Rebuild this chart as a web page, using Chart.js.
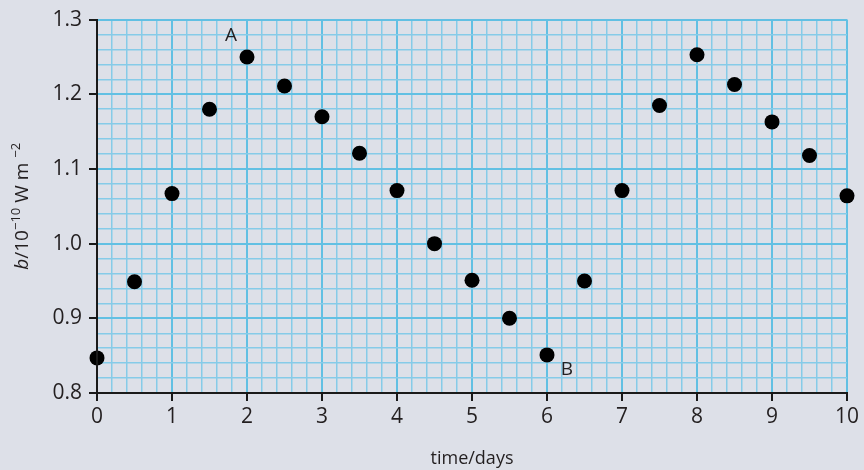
<!DOCTYPE html>
<html>
<head>
<meta charset="utf-8">
<script src="https://cdn.jsdelivr.net/npm/chart.js@4"></script>
<style>
  html, body { margin: 0; padding: 0; background: #dde0e8; }
  #wrap { width: 864px; height: 470px; }
</style>
</head>
<body>
<div id="wrap"><canvas id="chart" width="864" height="470"></canvas></div>
<script>
// dados
const timeDays = [0, 0.5, 1, 1.5, 2, 2.5, 3, 3.5, 4, 4.5, 5, 5.5, 6, 6.5, 7, 7.5, 8, 8.5, 9, 9.5, 10];
const brightness = [0.847, 0.949, 1.067, 1.18, 1.25, 1.211, 1.17, 1.121, 1.071, 1.0, 0.951, 0.9,
                    0.851, 0.95, 1.071, 1.185, 1.253, 1.213, 1.163, 1.118, 1.064];
const xRange = [0, 10];
const yRange = [0.8, 1.3];
const xStep = 0.2;   // linhas finas da grade
const yStep = 0.02;
const pointMarks = [{ text: "A", index: 4 }, { text: "B", index: 12 }];

const BG = "#dde0e8";
const MAJOR = "#62c0e3";
const MINOR = "#86cbe8";
const INK = "#231f20";
const FONT = "'Open Sans', 'Noto Sans', sans-serif";

const isMajorX = v => Math.abs(v - Math.round(v)) < 1e-6;
const isMajorY = v => Math.abs(v * 10 - Math.round(v * 10)) < 1e-6;

// fundo cinza
const bgPlugin = {
  id: "bg",
  beforeDraw(chart) {
    const c = chart.ctx;
    c.save();
    c.fillStyle = BG;
    c.fillRect(0, 0, chart.width, chart.height);
    c.restore();
  }
};

// rótulos A / B e título do eixo y
const extrasPlugin = {
  id: "extras",
  afterDraw(chart) {
    const c = chart.ctx;
    const meta = chart.getDatasetMeta(0);
    c.save();
    c.fillStyle = INK;
    c.font = "19px " + FONT;
    c.textAlign = "center";
    c.textBaseline = "middle";
    const a = meta.data[pointMarks[0].index];
    c.fillText(pointMarks[0].text, a.x - 16, a.y - 21);
    const b = meta.data[pointMarks[1].index];
    c.fillText(pointMarks[1].text, b.x + 20, b.y + 15);
    c.restore();

    // b/10^-10 W m^-2
    const area = chart.chartArea;
    const parts = [
      { t: "b", f: "italic 19px " + FONT, dy: 0 },
      { t: "/10", f: "19px " + FONT, dy: 0 },
      { t: "\u221210", f: "13px " + FONT, dy: -7 },
      { t: " W m ", f: "19px " + FONT, dy: 0 },
      { t: "\u22122", f: "13px " + FONT, dy: -7 }
    ];
    c.save();
    c.fillStyle = INK;
    c.textBaseline = "middle";
    c.textAlign = "left";
    let total = 0;
    parts.forEach(p => { c.font = p.f; p.w = c.measureText(p.t).width; total += p.w; });
    c.translate(23, (area.top + area.bottom) / 2);
    c.rotate(-Math.PI / 2);
    let x = -total / 2;
    parts.forEach(p => {
      c.font = p.f;
      c.fillText(p.t, x, p.dy);
      x += p.w;
    });
    c.restore();
  }
};

const ctx = document.getElementById("chart").getContext("2d");
const chart = new Chart(ctx, {
  type: "scatter",
  data: {
    datasets: [{
      data: timeDays.map((t, i) => ({ x: t, y: brightness[i] })),
      backgroundColor: "#000",
      borderWidth: 0,
      pointRadius: 7.5,
      pointHoverRadius: 7.5,
      clip: false
    }]
  },
  options: {
    responsive: false,
    animation: false,
    events: [],
    layout: { padding: { left: 0, right: 17, top: 18, bottom: 0 } },
    plugins: { legend: { display: false }, tooltip: { enabled: false } },
    scales: {
      x: {
        type: "linear",
        min: xRange[0],
        max: xRange[1],
        afterFit(scale) { scale.height = 77; },
        ticks: {
          stepSize: xStep,
          autoSkip: false,
          maxRotation: 0,
          padding: 3,
          color: INK,
          font: { family: FONT, size: 21 },
          callback: v => isMajorX(v) ? String(Math.round(v)) : ""
        },
        grid: {
          color: c => isMajorX(c.tick.value) ? MAJOR : MINOR,
          lineWidth: c => isMajorX(c.tick.value) ? 2 : 1.5,
          tickLength: 8,
          tickWidth: 2,
          tickColor: c => isMajorX(c.tick.value) ? "#1a1a1a" : "rgba(0,0,0,0)"
        },
        border: { display: true, color: "#1a1a1a", width: 2, z: 1 },
        title: {
          display: true,
          text: "time/days",
          color: INK,
          font: { family: FONT, size: 18 },
          padding: { top: 0, bottom: 0 }
        }
      },
      y: {
        type: "linear",
        min: yRange[0],
        max: yRange[1],
        afterFit(scale) { scale.width = 97; },
        ticks: {
          stepSize: yStep,
          autoSkip: false,
          padding: 7,
          color: INK,
          font: { family: FONT, size: 21 },
          callback: v => isMajorY(v) ? v.toFixed(1) : ""
        },
        grid: {
          color: c => isMajorY(c.tick.value) ? MAJOR : MINOR,
          lineWidth: c => isMajorY(c.tick.value) ? 2 : 1.5,
          tickLength: 8,
          tickWidth: 2,
          tickColor: c => isMajorY(c.tick.value) ? "#1a1a1a" : "rgba(0,0,0,0)"
        },
        border: { display: true, color: "#1a1a1a", width: 2, z: 1 }
      }
    }
  },
  plugins: [bgPlugin, extrasPlugin]
});
</script>
</body>
</html>
